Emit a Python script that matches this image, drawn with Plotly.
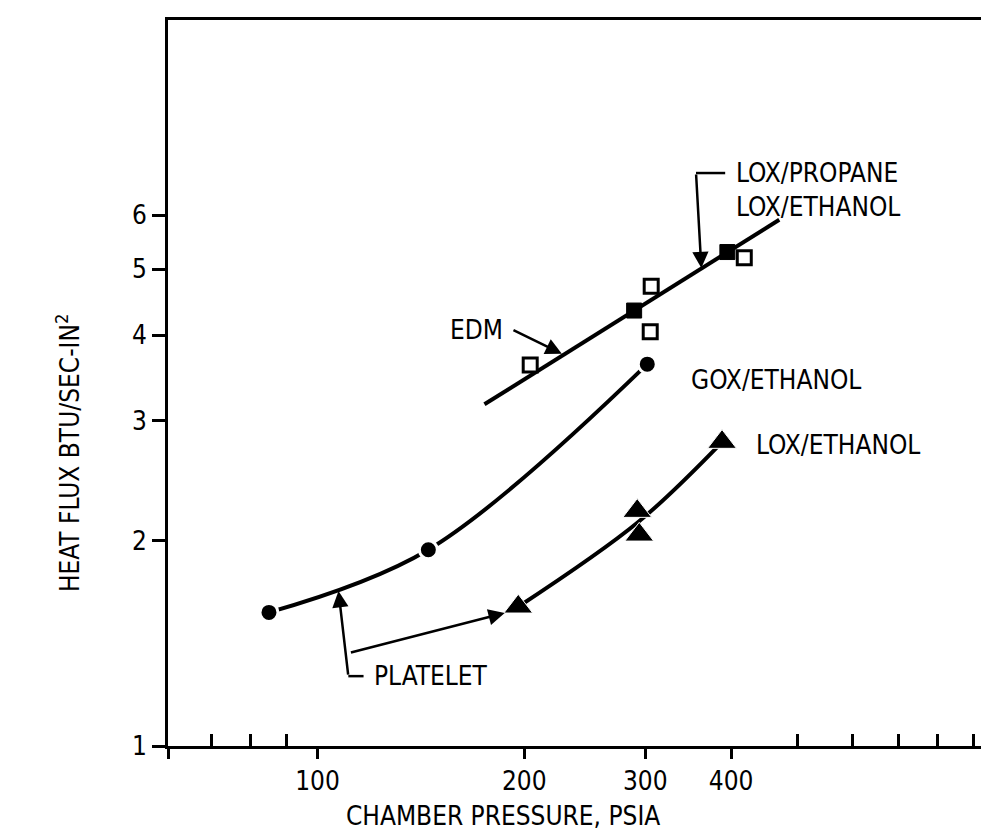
import math
import plotly.graph_objects as go

# ---------------- data ----------------
GOX_P = [85, 145, 302]          # GOX/ETHANOL, platelet (circles)
GOX_Q = [1.57, 1.94, 3.63]

LOXE_P = [196, 292, 294, 388]   # LOX/ETHANOL, platelet (triangles)
LOXE_Q = [1.60, 2.21, 2.04, 2.79]
LOXE_CURVE_P = [196, 293, 388]
LOXE_CURVE_Q = [1.60, 2.13, 2.79]

FILLED_P = [289, 395]           # LOX/PROPANE, LOX/ETHANOL (filled squares)
FILLED_Q = [4.35, 5.30]

EDM_P = [204, 306, 305, 418]    # EDM (open squares)
EDM_Q = [3.62, 4.72, 4.05, 5.20]

FIT_P = [175, 470]              # straight fit line through square data
FIT_Q = [3.17, 5.91]

X_TICKS = [100, 200, 300, 400]
X_MINOR = [70, 80, 90, 500, 600, 700, 800, 900]
Y_TICKS = [1, 2, 3, 4, 5, 6]

FONT = "DejaVu Sans Condensed, Liberation Sans Narrow, DejaVu Sans, sans-serif"
FS = 26
L = math.log10

fig = go.Figure()

# fitted straight line
fig.add_trace(go.Scatter(x=FIT_P, y=FIT_Q, mode="lines",
                         line=dict(color="black", width=4), hoverinfo="skip"))
# GOX curve
fig.add_trace(go.Scatter(x=GOX_P, y=GOX_Q, mode="lines", line_shape="spline",
                         line=dict(color="black", width=4), hoverinfo="skip"))
# LOX/ETHANOL curve
fig.add_trace(go.Scatter(x=LOXE_CURVE_P, y=LOXE_CURVE_Q, mode="lines", line_shape="spline",
                         line=dict(color="black", width=4), hoverinfo="skip"))
# markers
fig.add_trace(go.Scatter(x=GOX_P, y=GOX_Q, mode="markers",
                         marker=dict(symbol="circle", size=18, color="black",
                                     line=dict(color="white", width=3))))
fig.add_trace(go.Scatter(x=LOXE_P, y=LOXE_Q, mode="markers",
                         marker=dict(symbol="triangle-up", size=25, color="black",
                                     line=dict(color="white", width=1))))
fig.add_trace(go.Scatter(x=FILLED_P, y=FILLED_Q, mode="markers",
                         marker=dict(symbol="square", size=15, color="black",
                                     line=dict(color="black", width=1))))
fig.add_trace(go.Scatter(x=EDM_P, y=EDM_Q, mode="markers",
                         marker=dict(symbol="square", size=14, color="white",
                                     line=dict(color="black", width=3))))

# bracket lines (no arrow)
BR1_P = [355.6, 392.1]; BR1_Q = [6.92, 6.92]
BR2_P = [110.9, 116.7]; BR2_Q = [1.266, 1.266]
for bp, bq in [(BR1_P, BR1_Q), (BR2_P, BR2_Q)]:
    fig.add_trace(go.Scatter(x=bp, y=bq, mode="lines",
                             line=dict(color="black", width=2.5), hoverinfo="skip"))

# arrows: (tail_p, tail_q, tip_p, tip_q)
ARROWS = [
    (355.6, 6.92, 362.0, 5.02),   # LOX/PROPANE bracket
    (191.9, 4.08, 226.8, 3.76),   # EDM
    (110.9, 1.266, 107.3, 1.687), # PLATELET up
    (111.3, 1.369, 187.3, 1.567), # PLATELET right
]
for tp, tq, hp, hq in ARROWS:
    fig.add_annotation(x=L(hp), y=L(hq), ax=L(tp), ay=L(tq), axref="x", ayref="y",
                       xref="x", yref="y", text="", showarrow=True,
                       arrowhead=2, arrowsize=1.3, arrowwidth=2.5, arrowcolor="black")

# labels: (text, p, q)
LABELS = [
    ("LOX/PROPANE<br>LOX/ETHANOL", 404, 6.54),
    ("EDM", 155, 4.07),
    ("GOX/ETHANOL", 347, 3.44),
    ("LOX/ETHANOL", 432, 2.76),
    ("PLATELET", 120, 1.266),
]
for t, p, q in LABELS:
    fig.add_annotation(x=L(p), y=L(q), xref="x", yref="y", text=t, showarrow=False,
                       xanchor="left", yanchor="middle", align="left",
                       font=dict(family=FONT, size=FS, color="black"))

# axis titles
fig.add_annotation(text="CHAMBER PRESSURE, PSIA", xref="paper", yref="paper",
                   x=(495 - 160) / 829, y=(738 - 808) / 726, showarrow=False,
                   xanchor="center", yanchor="middle",
                   font=dict(family=FONT, size=FS, color="black"))
fig.add_annotation(text="HEAT FLUX BTU/SEC-IN<sup>2</sup>", xref="paper", yref="paper",
                   x=(60 - 160) / 829, y=(738 - 445) / 726, showarrow=False, textangle=-90,
                   xanchor="center", yanchor="middle",
                   font=dict(family=FONT, size=FS, color="black"))

XR = [L(60.6), L(975)]
YR = [0, 1.0645]

fig.update_layout(
    width=989, height=837,
    margin=dict(l=160, r=0, t=12, b=99),
    paper_bgcolor="white", plot_bgcolor="white",
    showlegend=False,
    font=dict(family=FONT, size=FS, color="black"),
    xaxis=dict(type="log", range=XR, tickvals=[60.6] + X_TICKS,
               ticktext=[""] + [str(v) for v in X_TICKS],
               ticks="outside", ticklen=10, tickwidth=3, tickcolor="black",
               showline=True, linewidth=3, linecolor="black", mirror=True,
               showgrid=False, zeroline=False,
               minor=dict(tickvals=X_MINOR, ticks="inside", ticklen=12, tickwidth=3,
                          tickcolor="black", showgrid=False),
               tickfont=dict(family=FONT, size=FS)),
    xaxis2=dict(type="log", range=XR, overlaying="x", anchor="y", tickvals=X_TICKS,
                ticks="inside", ticklen=12, tickwidth=3, tickcolor="black",
                showticklabels=False, showline=False, showgrid=False, zeroline=False),
    yaxis=dict(type="log", range=YR, tickvals=Y_TICKS, ticktext=[str(v) for v in Y_TICKS],
               ticks="outside", ticklen=13, tickwidth=3, tickcolor="black",
               showline=True, linewidth=3, linecolor="black",
               showgrid=False, zeroline=False,
               tickfont=dict(family=FONT, size=FS)),
    yaxis2=dict(type="log", range=YR, overlaying="y", anchor="x", tickvals=Y_TICKS,
                ticks="inside", ticklen=8, tickwidth=3, tickcolor="black",
                showticklabels=False, showline=False, showgrid=False, zeroline=False),
)

fig.write_html("out.html")
